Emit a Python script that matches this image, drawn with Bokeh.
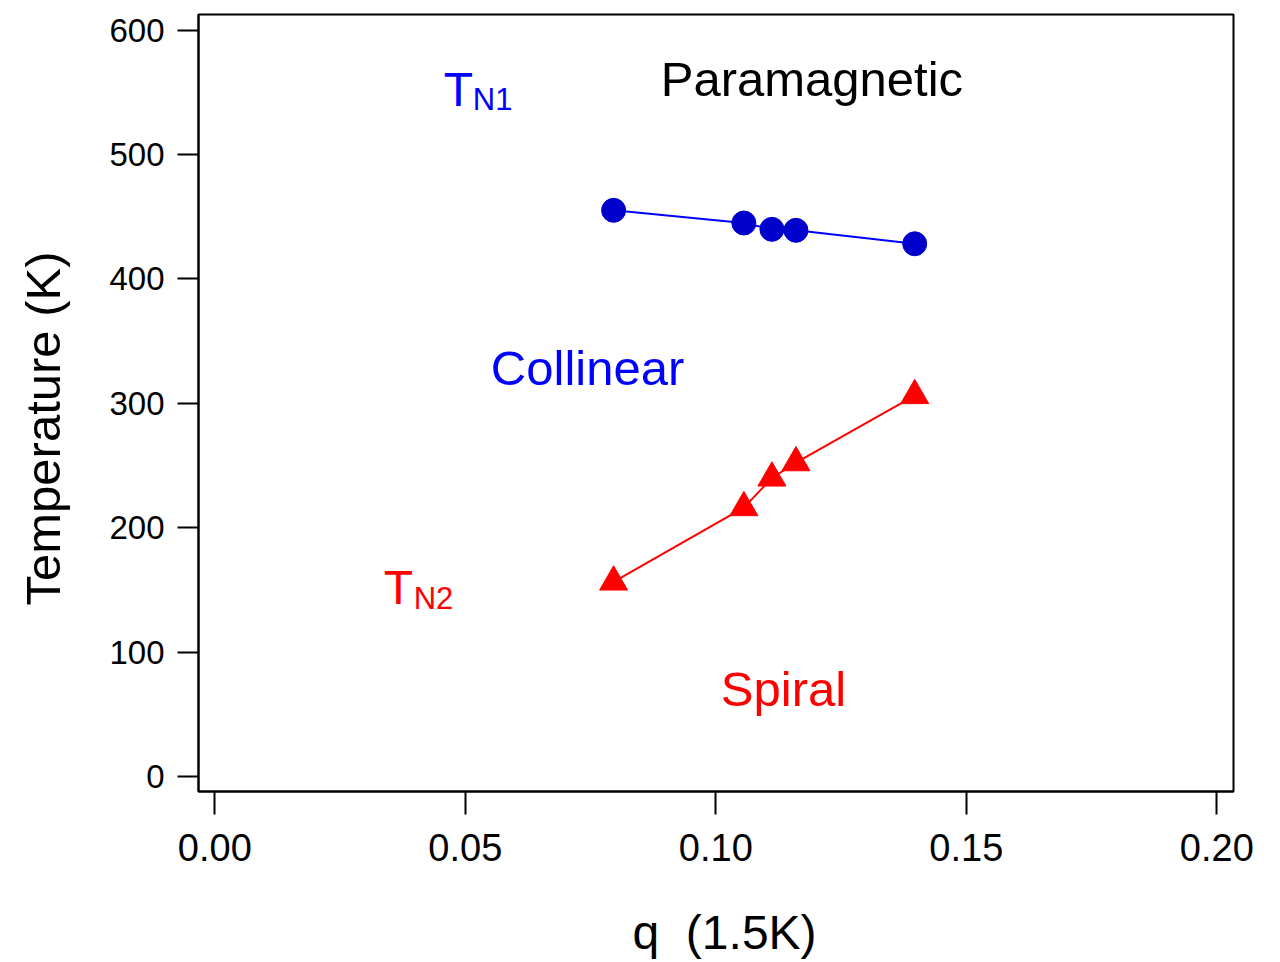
import math
from bokeh.plotting import figure
from bokeh.models import Range1d, Label, FixedTicker, ColumnDataSource, Title
from bokeh.embed import file_html
from bokeh.resources import INLINE

# Data
q_values = [0.0796, 0.1056, 0.1112, 0.1160, 0.1397]
tn1_values = [455.2, 445.0, 439.9, 439.1, 428.3]
tn2_values = [156.4, 216.2, 240.0, 252.3, 306.3]

x_ticks = [0.00, 0.05, 0.10, 0.15, 0.20]
y_ticks = [0, 100, 200, 300, 400, 500, 600]
x_tick_labels = {0.00: "0.00", 0.05: "0.05", 0.10: "0.10", 0.15: "0.15", 0.20: "0.20"}

FONT = "Liberation Sans"

p = figure(width=1280, height=962, output_backend="svg", toolbar_location=None,
           x_range=Range1d(-0.003253, 0.20333), y_range=Range1d(-12.07, 612.63),
           min_border_left=198, min_border_right=47, min_border_top=14, min_border_bottom=171)

p.xgrid.visible = False
p.ygrid.visible = False
p.outline_line_color = "black"
p.outline_line_width = 2
p.background_fill_color = "white"
p.border_fill_color = "white"

for ax in (p.xaxis[0], p.yaxis[0]):
    ax.axis_line_width = 2
    ax.axis_line_color = "black"
    ax.major_tick_line_width = 2
    ax.major_tick_line_color = "black"
    ax.major_tick_in = 0
    ax.minor_tick_line_color = None
    ax.major_label_text_font = FONT
    ax.major_label_text_color = "black"

p.xaxis[0].ticker = FixedTicker(ticks=x_ticks)
p.xaxis[0].major_label_overrides = x_tick_labels
p.xaxis[0].major_tick_out = 23
p.xaxis[0].major_label_standoff = 19
p.xaxis[0].major_label_text_font_size = "38px"

p.yaxis[0].ticker = FixedTicker(ticks=y_ticks)
p.yaxis[0].major_tick_out = 21
p.yaxis[0].major_label_standoff = 13
p.yaxis[0].major_label_text_font_size = "33px"

src1 = ColumnDataSource(dict(q=q_values, t=tn1_values))
src2 = ColumnDataSource(dict(q=q_values, t=tn2_values))

p.line("q", "t", source=src1, line_color="#0000ff", line_width=2)
p.scatter("q", "t", source=src1, marker="circle", size=24, fill_color="#0000cc", line_color="#0000cc")
p.line("q", "t", source=src2, line_color="#ff0000", line_width=2)
p.scatter("q", "t", source=src2, marker="triangle", size=28, fill_color="#ff0000", line_color="#ff0000")

def txt(x, y, s, color, size, align="left"):
    p.add_layout(Label(x=x, y=y, text=s, text_color=color, text_font=FONT,
                       text_font_size=size, text_align=align, text_baseline="alphabetic"))

txt(0.0890, 560.6, "Paramagnetic", "black", "49px")
txt(0.0551, 328.1, "Collinear", "#0000ff", "49px")
txt(0.1010, 70.6, "Spiral", "#ff0000", "49px")
txt(0.0457, 552.5, "T", "#0000ff", "48px")
txt(0.0515, 544.5, "N1", "#0000ff", "31px")
txt(0.0337, 151.8, "T", "#ff0000", "48px")
txt(0.0397, 143.0, "N2", "#ff0000", "31px")

# blank spacer panels between the axes and their titles
p.add_layout(Title(text=" ", text_font_size="1px", standoff=37, text_color="white"), "below")
p.add_layout(Title(text=" ", text_font_size="1px", standoff=34, text_color="white"), "left")

# axis titles
xt = Title(text="q\u00a0 (1.5K)", align="left", offset=434, standoff=0, vertical_align="bottom",
           text_font=FONT, text_font_size="48px", text_font_style="normal", text_color="black")
p.add_layout(xt, "below")
yt = Title(text="Temperature (K)", align="left", offset=186, standoff=0, vertical_align="bottom",
           text_font=FONT, text_font_size="49px", text_font_style="normal", text_color="black")
p.add_layout(yt, "left")

open("out.html", "w").write(file_html(p, INLINE))
